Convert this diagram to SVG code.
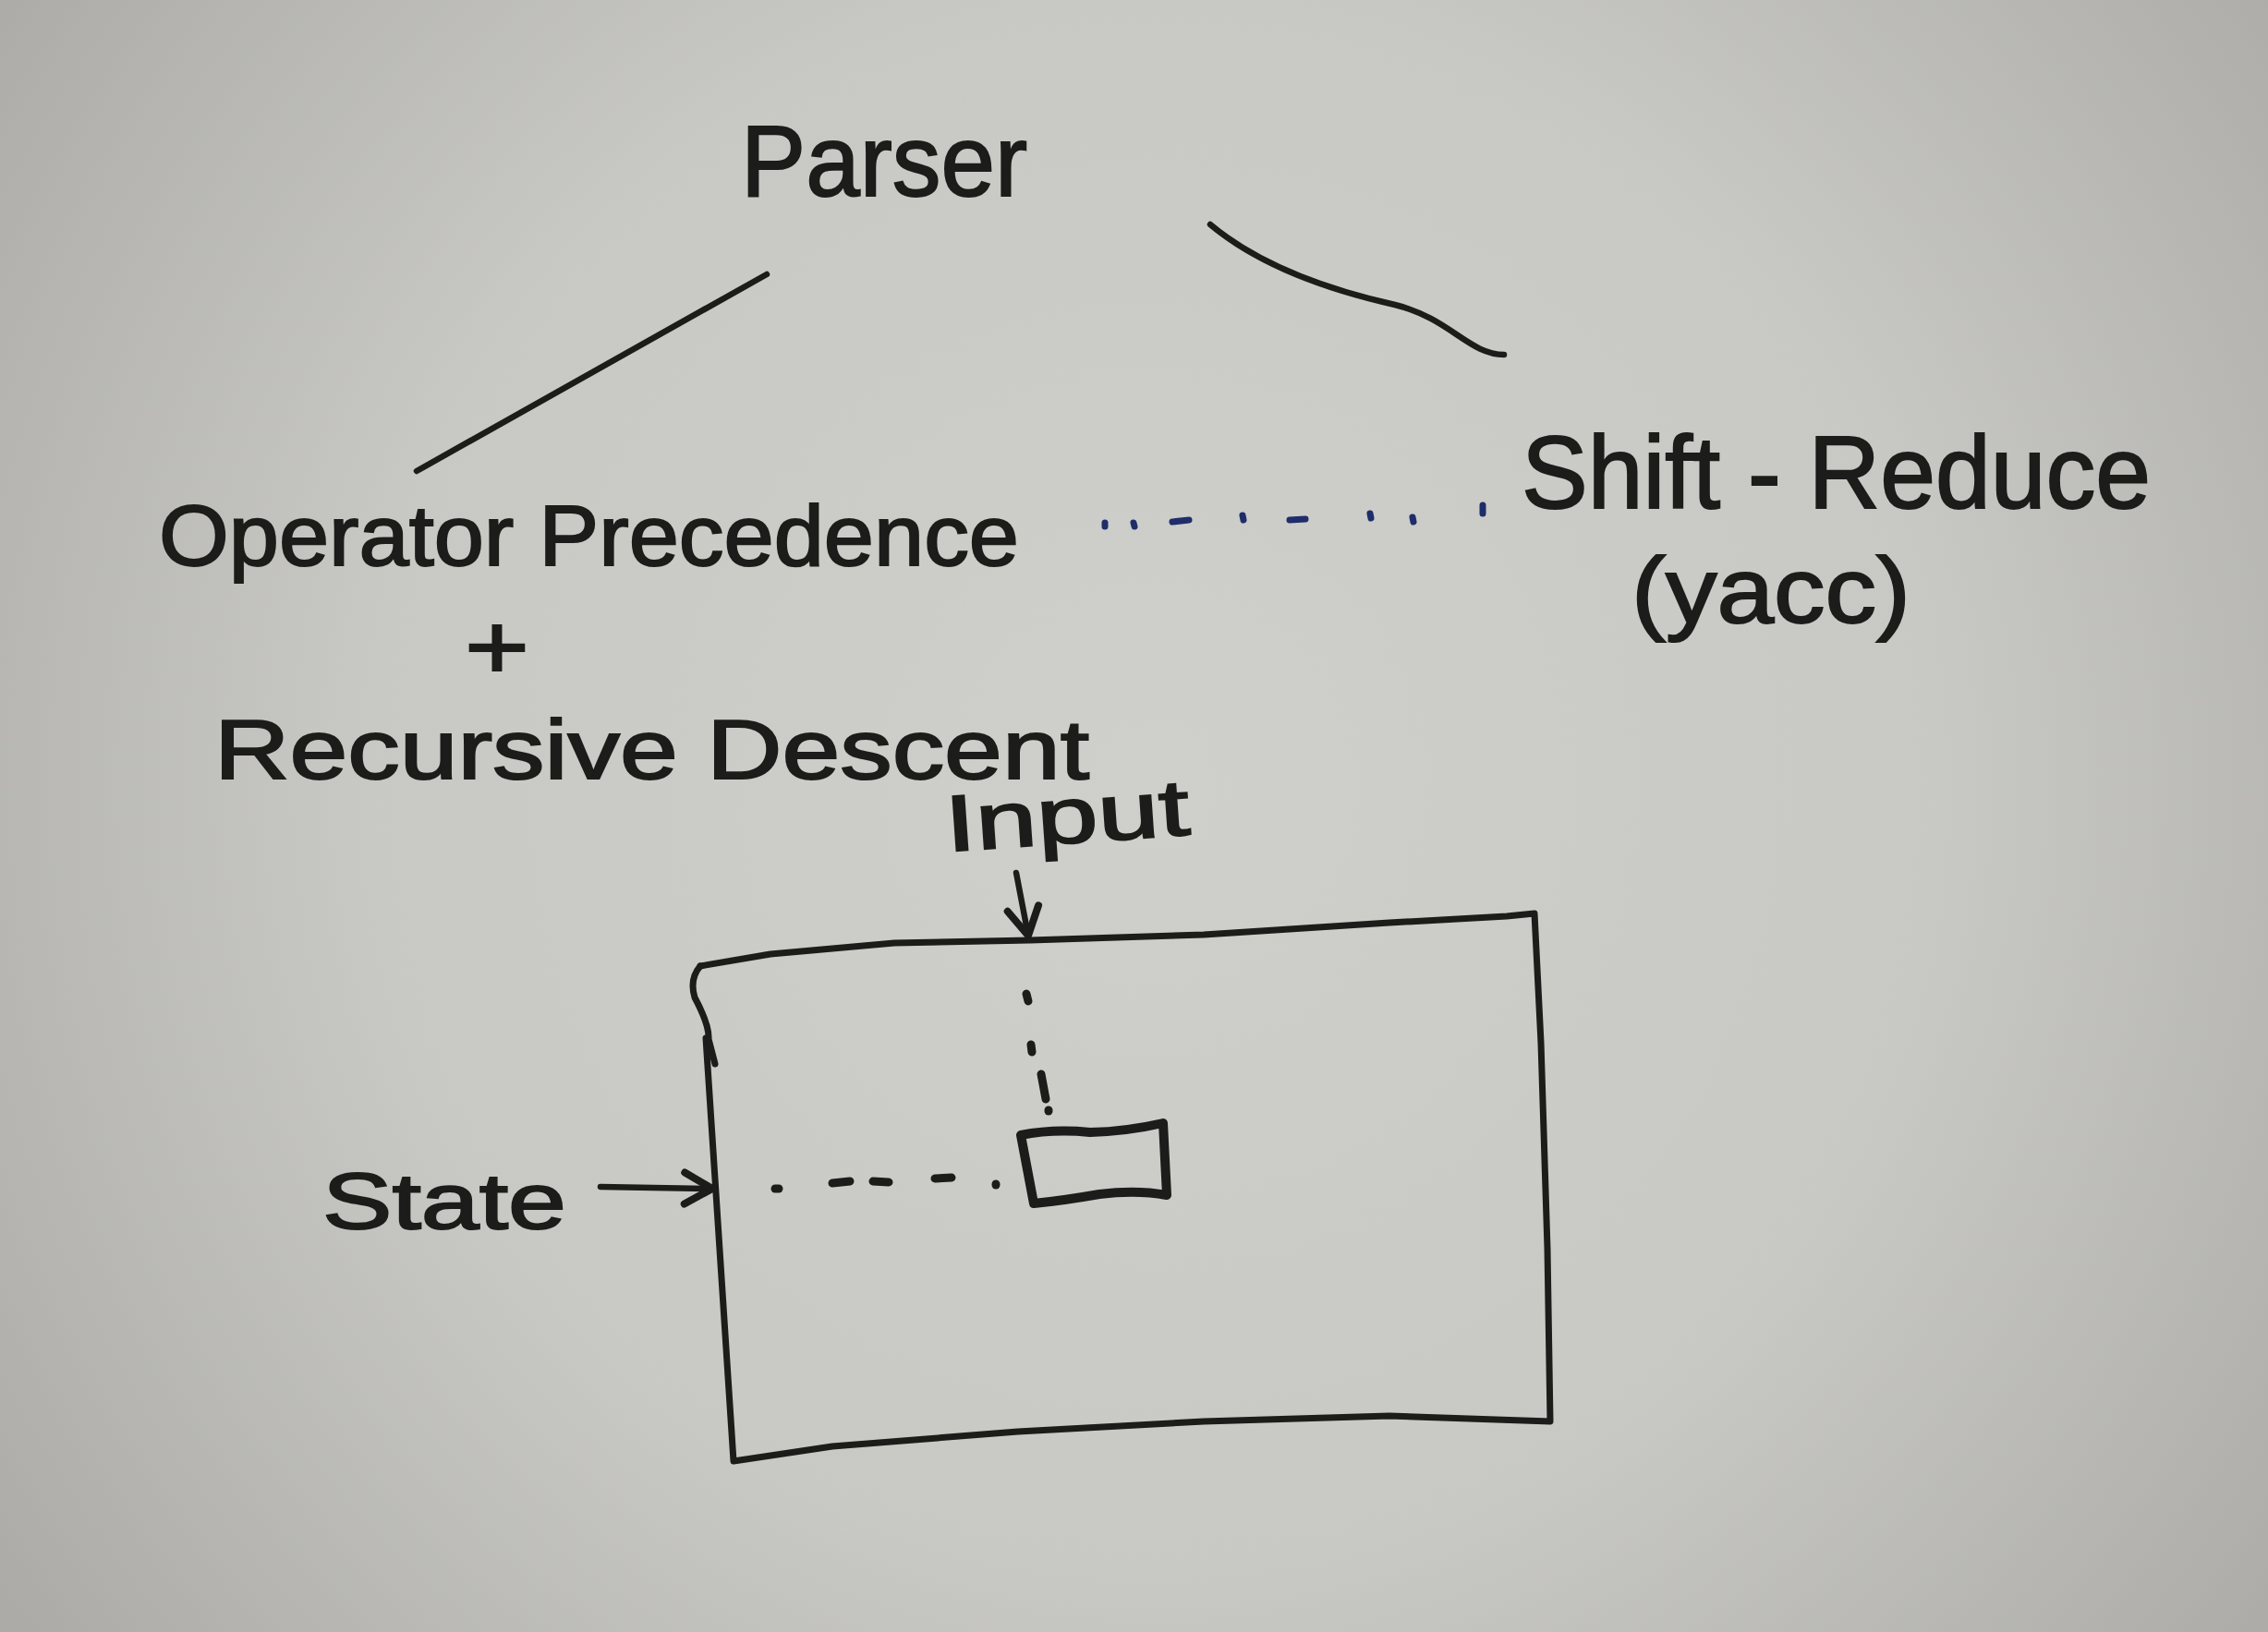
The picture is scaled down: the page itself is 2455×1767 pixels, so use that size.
<svg xmlns="http://www.w3.org/2000/svg" width="2455" height="1767" viewBox="0 0 2455 1767">
  <defs>
    <radialGradient id="paper" cx="1250" cy="850" r="1550" gradientUnits="userSpaceOnUse">
      <stop offset="0" stop-color="#cfcfcb"/>
      <stop offset="0.55" stop-color="#c8c8c4"/>
      <stop offset="1" stop-color="#abaaa6"/>
    </radialGradient>
    <marker id="head" viewBox="-40 -25 50 50" refX="0" refY="0" markerWidth="50" markerHeight="50" markerUnits="userSpaceOnUse" orient="auto">
      <path d="M -30,-17 L 0,0 L -30,17" fill="none" stroke="#1c1c1a" stroke-width="8" stroke-linecap="round" stroke-linejoin="round"/>
    </marker>
  </defs>
  <style>
    .t { font-family: "Liberation Sans", Arial, sans-serif; fill: #1c1c1a; stroke: #1c1c1a; stroke-width: 2; }
    .ln { fill: none; stroke: #1c1c1a; stroke-width: 6.5; stroke-linecap: round; stroke-linejoin: round; }
    .box { fill: none; stroke: #1c1c1a; stroke-width: 7; stroke-linecap: round; stroke-linejoin: round; }
    .sbox { fill: none; stroke: #1c1c1a; stroke-width: 10; stroke-linecap: round; stroke-linejoin: round; }
    .dot { fill: none; stroke: #1c1c1a; stroke-width: 9; stroke-linecap: round; }
    .bdot { fill: none; stroke: #1f2d6b; stroke-width: 7; stroke-linecap: round; }
  </style>
  <rect x="0" y="0" width="2455" height="1767" fill="url(#paper)"/>

  <g id="parser">
    <text class="t" x="802" y="212" font-size="110" textLength="310" lengthAdjust="spacingAndGlyphs">Parser</text>
  </g>
  <g id="operator-precedence">
    <text class="t" x="172" y="612" font-size="92" textLength="931" lengthAdjust="spacingAndGlyphs">Operator Precedence</text>
  </g>
  <g id="plus">
    <text class="t" x="503" y="735" font-size="100" textLength="70" lengthAdjust="spacingAndGlyphs">+</text>
  </g>
  <g id="recursive-descent">
    <text class="t" x="232" y="843" font-size="90" textLength="947" lengthAdjust="spacingAndGlyphs">Recursive Descent</text>
  </g>
  <g id="shift-reduce">
    <text class="t" x="1647" y="550" font-size="112" textLength="681" lengthAdjust="spacingAndGlyphs">Shift - Reduce</text>
  </g>
  <g id="yacc">
    <text class="t" x="1766" y="674" font-size="100" textLength="302" lengthAdjust="spacingAndGlyphs">(yacc)</text>
  </g>
  <g id="input">
    <text class="t" x="1025" y="922" font-size="86" textLength="265" lengthAdjust="spacingAndGlyphs" transform="rotate(-4 1025 922)">Input</text>
  </g>
  <g id="state">
    <text class="t" x="349" y="1330" font-size="86" textLength="264" lengthAdjust="spacingAndGlyphs">State</text>
  </g>

  <g id="parser-table">
    <path class="box" d="M 758,1046 L 834,1033 L 968,1021 L 1115,1018 L 1303,1012 L 1504,999 L 1631,992 L 1661,989 L 1668,1129 L 1675,1352 L 1678,1539 L 1504,1533 L 1303,1539 L 1102,1550 L 901,1566 L 794,1582 L 764,1124"/>
    <path class="box" d="M 758,1046 Q 746,1060 752,1080 Q 768,1110 767,1125 L 774,1152"/>
  </g>
  <g id="cell">
    <path class="sbox" d="M 1105,1229 Q 1140,1222 1180,1226 Q 1220,1225 1259,1216 L 1263,1294 Q 1230,1288 1190,1293 Q 1150,1300 1119,1303 Z"/>
  </g>

  <g id="connectors">
    <path class="ln" d="M 451,510 L 830,297"/>
    <path class="ln" d="M 1310,243 C 1360,285 1430,312 1510,330 C 1570,345 1590,384 1628,384"/>
    <g id="dotted-blue">
      <path class="bdot" d="M 1196,566 L 1196,570"/>
      <path class="bdot" d="M 1227,566 L 1228,570"/>
      <path class="bdot" d="M 1269,565 L 1287,563"/>
      <path class="bdot" d="M 1345,558 L 1346,563"/>
      <path class="bdot" d="M 1396,563 L 1413,562"/>
      <path class="bdot" d="M 1483,556 L 1484,561"/>
      <path class="bdot" d="M 1529,560 L 1530,565"/>
      <path class="bdot" d="M 1605,547 L 1605,556"/>
    </g>
    <path class="ln" d="M 1100,945 L 1113,1013" marker-end="url(#head)"/>
    <path class="ln" d="M 650,1285 L 771,1287" marker-end="url(#head)"/>
    <g id="dotted-input">
      <path class="dot" d="M 1111,1076 L 1113,1084"/>
      <path class="dot" d="M 1116,1131 L 1117,1139"/>
      <path class="dot" d="M 1127,1163 L 1132,1190"/>
      <path class="dot" d="M 1135,1202 L 1135,1203"/>
    </g>
    <g id="dotted-state">
      <path class="dot" d="M 839,1287 L 843,1287"/>
      <path class="dot" d="M 901,1281 L 920,1279"/>
      <path class="dot" d="M 945,1279 L 962,1280"/>
      <path class="dot" d="M 1012,1276 L 1030,1275"/>
      <path class="dot" d="M 1078,1282 L 1078,1283"/>
    </g>
  </g>
</svg>
